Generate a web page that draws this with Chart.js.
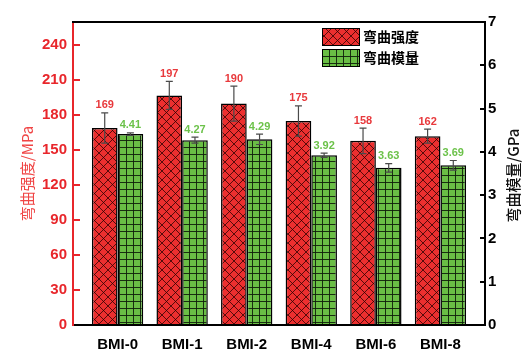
<!DOCTYPE html>
<html>
<head>
<meta charset="utf-8">
<script src="https://cdn.jsdelivr.net/npm/chart.js@4/dist/chart.umd.min.js"></script>
<style>
  html, body { margin: 0; padding: 0; background: #fff; }
  #wrap { width: 524px; height: 349px; }
</style>
</head>
<body>
<div id="wrap"><canvas id="c" width="524" height="349"></canvas></div>
<script>
// Samples and measured flexural properties
const categories = ['BMI-0', 'BMI-1', 'BMI-2', 'BMI-4', 'BMI-6', 'BMI-8'];
const strength = [169, 197, 190, 175, 158, 162];          // MPa
const strengthErr = [13, 12, 15, 13, 11, 6];
const modulus = [4.41, 4.27, 4.29, 3.92, 3.63, 3.69];     // GPa
const modulusErr = [0.03, 0.07, 0.12, 0.05, 0.10, 0.11];
const strengthTicks = [0, 30, 60, 90, 120, 150, 180, 210, 240];
const modulusTicks = [0, 1, 2, 3, 4, 5, 6, 7];

const RED = '#ec2f2f';
const GREEN = '#6abe45';
const AXIS_RED = '#e8262b';
const LATIN = "'Liberation Sans', Arial, sans-serif";
const CJK = "'Noto Sans CJK SC', sans-serif";

// Fill patterns: red cross-hatch and green grid
function crossHatch() {
  const s = 9, t = document.createElement('canvas');
  t.width = s; t.height = s;
  const g = t.getContext('2d');
  g.fillStyle = RED; g.fillRect(0, 0, s, s);
  g.strokeStyle = 'rgba(40,0,0,0.85)'; g.lineWidth = 0.9;
  g.beginPath();
  g.moveTo(0, 0); g.lineTo(s, s);
  g.moveTo(0, s); g.lineTo(s, 0);
  g.stroke();
  return g.createPattern(t, 'repeat');
}
function gridFill() {
  const s = 7, t = document.createElement('canvas');
  t.width = s; t.height = s;
  const g = t.getContext('2d');
  g.fillStyle = GREEN; g.fillRect(0, 0, s, s);
  g.fillStyle = 'rgba(15,30,10,0.9)';
  g.fillRect(0, 0, s, 1);
  g.fillRect(0, 0, 1, s);
  return g.createPattern(t, 'repeat');
}

const redPattern = crossHatch();
const greenPattern = gridFill();

const errorsAndLabels = {
  id: 'errorsAndLabels',
  afterDatasetsDraw(chart) {
    const ctx = chart.ctx;
    chart.data.datasets.forEach((ds, di) => {
      const meta = chart.getDatasetMeta(di);
      const ys = chart.scales[ds.yAxisID];
      meta.data.forEach((bar, i) => {
        const v = ds.data[i].y, e = ds.errors[i];
        const yt = ys.getPixelForValue(v + e);
        const yb = ys.getPixelForValue(v - e);
        ctx.save();
        ctx.strokeStyle = '#4a4a4a';
        ctx.lineWidth = 1.2;
        ctx.beginPath();
        ctx.moveTo(bar.x, yt); ctx.lineTo(bar.x, yb);
        ctx.moveTo(bar.x - 3.5, yt); ctx.lineTo(bar.x + 3.5, yt);
        ctx.moveTo(bar.x - 3.5, yb); ctx.lineTo(bar.x + 3.5, yb);
        ctx.stroke();
        ctx.fillStyle = ds.labelColor;
        ctx.font = 'bold 11px ' + LATIN;
        ctx.textAlign = 'center';
        ctx.textBaseline = 'bottom';
        ctx.fillText(ds.valueText(v), bar.x, yt - 2);
        ctx.restore();
      });
    });
  },
  afterDraw(chart) {
    const ctx = chart.ctx, a = chart.chartArea;
    ctx.save();
    // top frame line
    ctx.strokeStyle = '#000';
    ctx.lineWidth = 2;
    ctx.beginPath();
    ctx.moveTo(a.left - 1, a.top); ctx.lineTo(a.right + 1, a.top);
    ctx.stroke();

    // axis titles (both read bottom to top)
    ctx.font = '15px ' + CJK;
    ctx.textAlign = 'center';
    ctx.textBaseline = 'middle';
    ctx.save();
    ctx.translate(27, (a.top + a.bottom) / 2);
    ctx.rotate(-Math.PI / 2);
    ctx.fillStyle = '#f04545';
    ctx.fillText('弯曲强度/MPa', 0, 0);
    ctx.restore();
    ctx.save();
    ctx.translate(513, (a.top + a.bottom) / 2 + 2);
    ctx.rotate(-Math.PI / 2);
    ctx.fillStyle = '#111';
    ctx.font = '500 15px ' + CJK;
    ctx.fillText('弯曲模量/GPa', 0, 0);
    ctx.restore();

    // legend
    const lx = a.left + 249;
    const rows = [a.top + 6, a.top + 27];
    chart.data.datasets.forEach((ds, di) => {
      const y = rows[di];
      ctx.fillStyle = ds.backgroundColor;
      ctx.fillRect(lx, y, 38, 18);
      ctx.strokeStyle = '#000';
      ctx.lineWidth = 1;
      ctx.strokeRect(lx + 0.5, y + 0.5, 37, 17);
      ctx.fillStyle = '#000';
      ctx.font = 'bold 14px ' + CJK;
      ctx.textAlign = 'left';
      ctx.textBaseline = 'middle';
      ctx.fillText(ds.label, lx + 41, y + 9);
    });
    ctx.restore();
  }
};

new Chart(document.getElementById('c'), {
  type: 'bar',
  data: {
    datasets: [
      {
        label: '弯曲强度',
        data: strength.map((v, i) => ({ x: i, y: v })),
        errors: strengthErr,
        yAxisID: 'y',
        backgroundColor: redPattern,
        borderColor: '#000',
        borderWidth: 1.5,
        labelColor: '#e8393c',
        valueText: v => String(v)
      },
      {
        label: '弯曲模量',
        data: modulus.map((v, i) => ({ x: i, y: v })),
        errors: modulusErr,
        yAxisID: 'y1',
        backgroundColor: greenPattern,
        borderColor: '#000',
        borderWidth: 1.5,
        labelColor: '#6cc24a',
        valueText: v => v.toFixed(2)
      }
    ]
  },
  options: {
    responsive: false,
    animation: false,
    categoryPercentage: 0.795,
    barPercentage: 1.0,
    layout: { padding: { top: 17, left: 0, right: 0, bottom: 0 } },
    plugins: { legend: { display: false }, tooltip: { enabled: false } },
    scales: {
      x: {
        type: 'linear',
        offset: false,
        min: -0.69,
        max: 5.69,
        afterBuildTicks: s => { s.ticks = categories.map((_, i) => ({ value: i })); },
        afterFit: s => { s.height = 24; },
        grid: { display: false },
        border: { display: true, color: '#000', width: 2 },
        ticks: {
          padding: 3,
          color: '#000',
          font: { family: LATIN, size: 15, weight: 'bold' },
          callback: v => categories[v]
        }
      },
      y: {
        position: 'left',
        min: 0,
        max: 260,
        afterBuildTicks: s => { s.ticks = strengthTicks.map(v => ({ value: v })); },
        afterFit: s => { s.width = 73; },
        grid: { drawOnChartArea: false, color: AXIS_RED, lineWidth: 2, tickLength: -7 },
        border: { display: true, color: AXIS_RED, width: 2 },
        ticks: {
          padding: 13,
          color: AXIS_RED,
          font: { family: LATIN, size: 15, weight: 'bold' }
        }
      },
      y1: {
        position: 'right',
        min: 0,
        max: 7,
        afterBuildTicks: s => { s.ticks = modulusTicks.map(v => ({ value: v })); },
        afterFit: s => { s.width = 39; },
        grid: { drawOnChartArea: false, color: '#000', lineWidth: 2, tickLength: -5 },
        border: { display: true, color: '#000', width: 2 },
        ticks: {
          padding: 8,
          color: '#000',
          font: { family: LATIN, size: 15, weight: 'bold' }
        }
      }
    }
  },
  plugins: [errorsAndLabels]
});
</script>
</body>
</html>
